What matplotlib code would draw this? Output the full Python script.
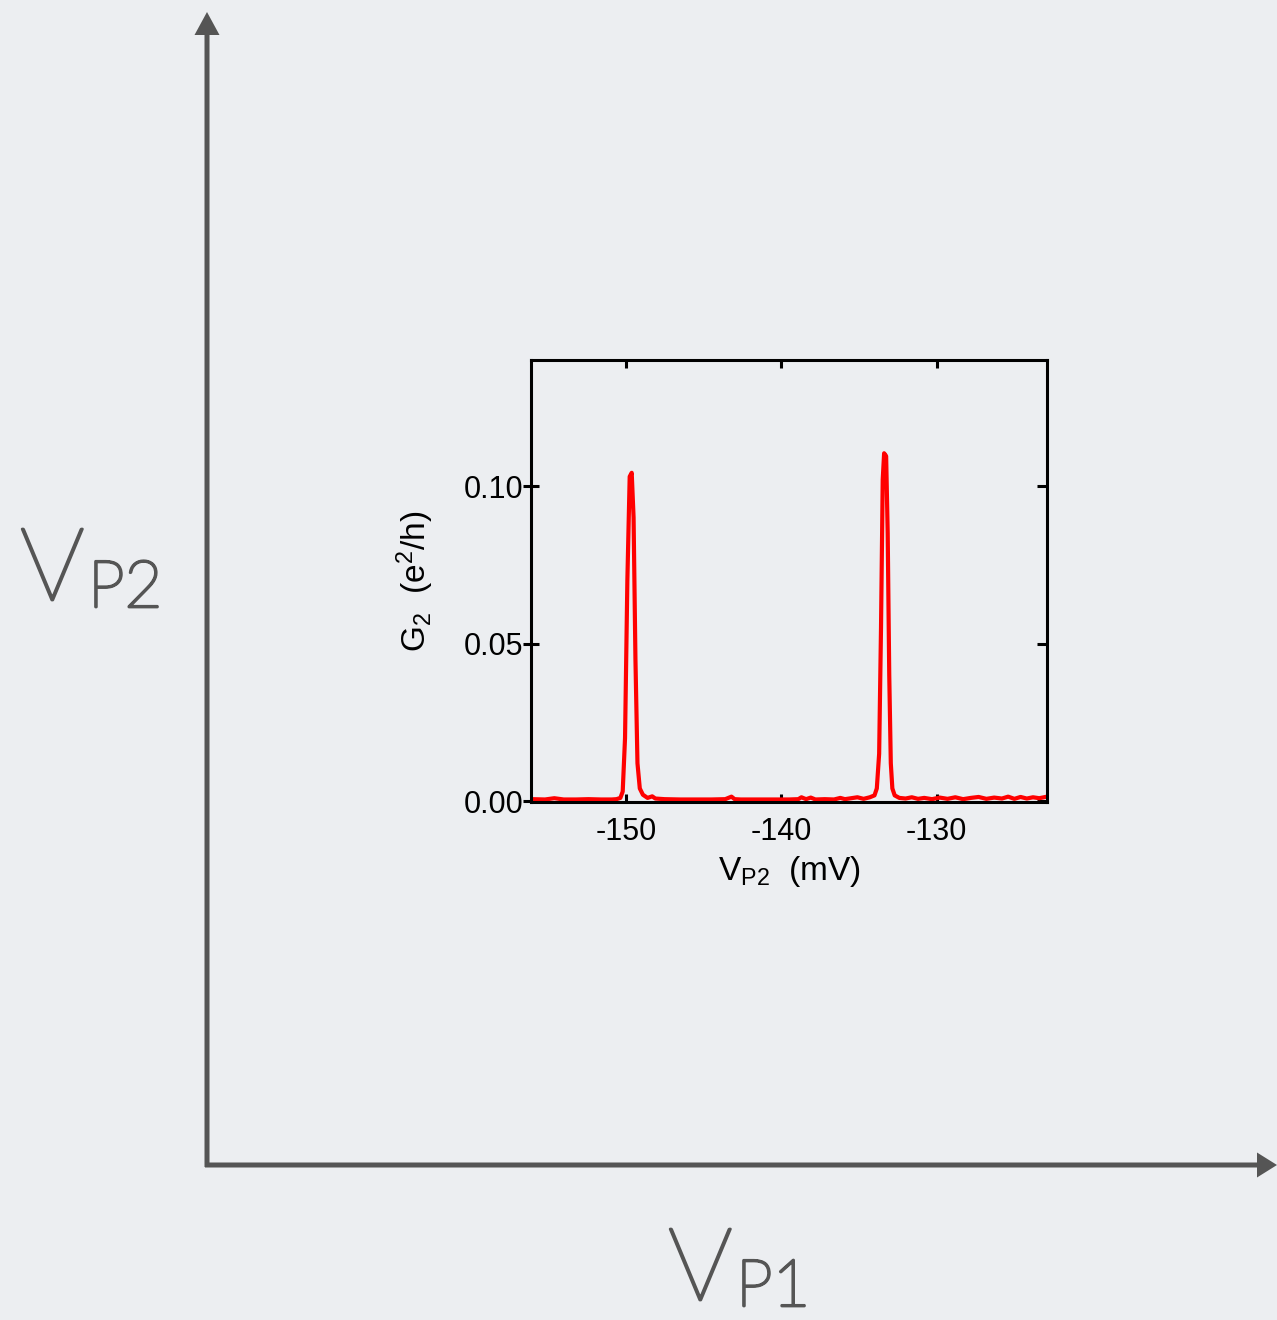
import matplotlib
matplotlib.use('Agg')
import matplotlib.pyplot as plt
from matplotlib.patches import FancyArrow
import matplotlib.patheffects as pe

# -----------------------------
# 1. Data
# -----------------------------
vp2 = [-156.0, -155.2, -154.6, -154.0, -153.2, -152.4, -151.6, -150.9,
       -150.6, -150.35, -150.2, -150.05, -149.9, -149.75, -149.62, -149.5,
       -149.38, -149.25, -149.1, -148.9, -148.6, -148.3, -148.1, -147.5,
       -146.5, -145.5, -144.5, -143.6, -143.2, -143.0, -142.6, -141.5,
       -140.5, -139.5, -138.9, -138.7, -138.4, -138.1, -137.8, -137.2,
       -136.6, -136.2, -135.9, -135.5, -135.1, -134.7, -134.3, -134.0,
       -133.85, -133.7, -133.58, -133.47, -133.38, -133.25, -133.15, -133.05,
       -132.95, -132.85, -132.7, -132.4, -132.0, -131.6, -131.2, -130.8,
       -130.3, -129.8, -129.3, -128.8, -128.3, -127.8, -127.3, -126.8,
       -126.3, -125.8, -125.4, -125.0, -124.6, -124.2, -123.8, -123.4,
       -123.0]
g2 = [0.0006, 0.0005, 0.0009, 0.0005, 0.0005, 0.0006, 0.0005, 0.0005,
      0.0006, 0.0010, 0.0030, 0.0200, 0.0700, 0.1030, 0.1042, 0.0900,
      0.0450, 0.0120, 0.0040, 0.0020, 0.0010, 0.0015, 0.0008, 0.0006,
      0.0005, 0.0005, 0.0005, 0.0006, 0.0014, 0.0006, 0.0005, 0.0005,
      0.0005, 0.0005, 0.0006, 0.0012, 0.0006, 0.0011, 0.0005, 0.0006,
      0.0005, 0.0010, 0.0006, 0.0009, 0.0012, 0.0007, 0.0012, 0.0018,
      0.0040, 0.0150, 0.0550, 0.1020, 0.1104, 0.1095, 0.0850, 0.0400,
      0.0120, 0.0040, 0.0018, 0.0010, 0.0008, 0.0012, 0.0007, 0.0010,
      0.0006, 0.0011, 0.0007, 0.0012, 0.0006, 0.0010, 0.0013, 0.0007,
      0.0011, 0.0008, 0.0014, 0.0007, 0.0013, 0.0008, 0.0012, 0.0009,
      0.0013]

x_ticks = [-150, -140, -130]
y_ticks = [0.00, 0.05, 0.10]
y_tick_labels = ["0.00", "0.05", "0.10"]

# -----------------------------
# 2. Figure / styling
# -----------------------------
bg = "#eceef1"
axis_grey = "#555555"
plt.rcParams['font.family'] = ['Liberation Sans', 'DejaVu Sans']
plt.rcParams['mathtext.default'] = 'regular'

W, H = 1277, 1320
fig = plt.figure(figsize=(W / 100, H / 100), dpi=100, facecolor=bg)

# overlay in pixel units for the schematic axes
over = fig.add_axes([0, 0, 1, 1])
over.set_xlim(0, W)
over.set_ylim(H, 0)
over.axis('off')
over.patch.set_alpha(0)

over.add_patch(FancyArrow(207, 1167, 0, -1155, width=5, head_width=25,
                          head_length=23, length_includes_head=True,
                          color=axis_grey, lw=0))
over.add_patch(FancyArrow(205, 1165, 1072, 0, width=5, head_width=25,
                          head_length=20, length_includes_head=True,
                          color=axis_grey, lw=0))

# thin font, thickened a little with a stroke of the same colour
thick = [pe.withStroke(linewidth=2.0, foreground=axis_grey)]
big_font = dict(family=['Lato', 'DejaVu Sans'], weight='light',
                color=axis_grey, path_effects=thick)
over.text(20, 600, "V", fontsize=73, ha='left', va='baseline', **big_font)
over.text(88, 607, "P2", fontsize=47, ha='left', va='baseline', **big_font)
over.text(668, 1300, "V", fontsize=73, ha='left', va='baseline', **big_font)
over.text(736, 1306, "P1", fontsize=47, ha='left', va='baseline', **big_font)

# -----------------------------
# 3. Inset conductance trace
# -----------------------------
ax = fig.add_axes([531 / W, 1 - 802 / H, (1047 - 531) / W, (802 - 360) / H])
ax.patch.set_alpha(0)
ax.plot(vp2, g2, color='#ff0000', lw=3.0, solid_joinstyle='round')
ax.set_xlim(-156.1, -122.9)
ax.set_ylim(-0.0003, 0.1400)

ax.set_xticks(x_ticks)
ax.set_xticklabels([str(t) for t in x_ticks])
ax.set_yticks(y_ticks)
ax.set_yticklabels(y_tick_labels)

for s in ax.spines.values():
    s.set_linewidth(2.2)
    s.set_color('black')

ax.tick_params(axis='x', direction='in', top=True, bottom=True, length=6,
               width=2.2, labelsize=22, pad=11)
ax.tick_params(axis='y', which='both', direction='inout', left=True,
               right=False, length=11, width=2.2, labelsize=22, pad=0)
ax.tick_params(axis='y', right=True, labelright=False)
# right-side ticks point inward only
for t in ax.yaxis.get_major_ticks():
    t.tick2line.set_marker(0)
    t.tick2line.set_markersize(7)

ax.set_xlabel("V$_{P2}$  (mV)", fontsize=24, labelpad=5)
ax.set_ylabel("G$_2$  (e$^2$/h)", fontsize=24, labelpad=20)

fig.savefig("out.png", dpi=100, facecolor=bg)
